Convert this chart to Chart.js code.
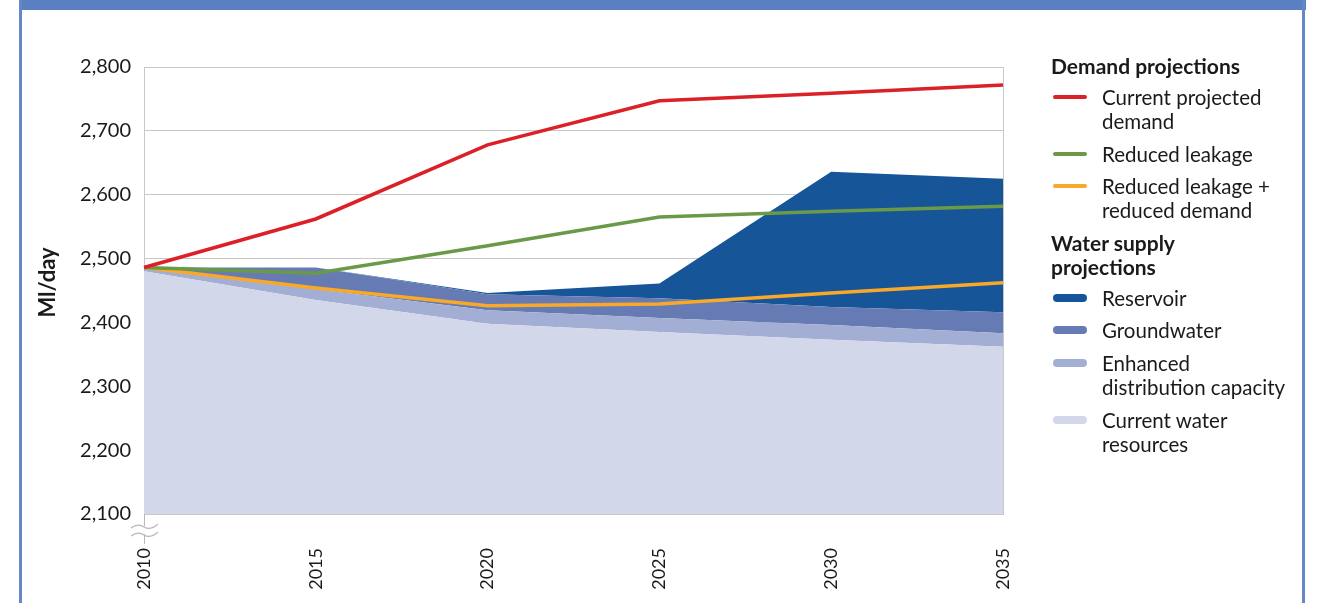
<!DOCTYPE html>
<html>
<head>
<meta charset="utf-8">
<script src="https://cdn.jsdelivr.net/npm/chart.js@4/dist/chart.umd.min.js"></script>
<style>
  html, body { margin: 0; padding: 0; background: #ffffff; }
  body { width: 1320px; height: 603px; position: relative; overflow: hidden; font-family: Lato, "Noto Sans", sans-serif; color: #1a1a1a; }
  #band { position: absolute; left: 19px; top: 0; width: 1287px; height: 10px; background: #5a7fc2; }
  #bl { position: absolute; left: 19px; top: 0; width: 3px; height: 603px; background: #6487c6; }
  #br { position: absolute; left: 1302px; top: 0; width: 3px; height: 603px; background: #6487c6; }
  #c { position: absolute; left: 0; top: 0; }
  .lg { position: absolute; font-size: 20.5px; line-height: 24px; white-space: nowrap; }
  .hd { font-weight: bold; font-size: 21px; }
  .sw { position: absolute; left: 1053px; width: 34px; }
</style>
</head>
<body>
<div id="band"></div><div id="bl"></div><div id="br"></div>
<canvas id="c" width="1320" height="603"></canvas>
<div id="legend"></div>
<script>
// ---- data ----
const years = ['2010', '2015', '2020', '2025', '2030', '2035'];
// supply components (stacked)
const currentResources = [2480, 2435, 2398, 2385, 2373, 2362];
const enhancedDistribution = [4, 17, 21, 22, 23, 21];
const groundwater = [2, 34, 25, 31, 28, 33];
const reservoir = [0, 0, 2, 23, 212, 209];
// demand projections
const currentDemand = [2486, 2562, 2678, 2747, 2759, 2772];
const reducedLeakage = [2486, 2477, 2520, 2565, 2574, 2582];
const reducedLeakageDemand = [2486, 2454, 2426, 2429, 2446, 2462];
// axis
const yMin = 2100, yMax = 2800, yStep = 100;
const yTitle = 'Ml/day';
// legend
const demandHeader = ['Demand projections'];
const supplyHeader = ['Water supply', 'projections'];
const legendCurrentDemand = ['Current projected', 'demand'];
const legendLeakage = ['Reduced leakage'];
const legendLeakageDemand = ['Reduced leakage +', 'reduced demand'];
const legendReservoir = ['Reservoir'];
const legendGroundwater = ['Groundwater'];
const legendEnhanced = ['Enhanced', 'distribution capacity'];
const legendCurrentRes = ['Current water', 'resources'];

const FONT = 'Lato, "Noto Sans", sans-serif';
const C = {
  red: '#dc2027', green: '#6a9a48', orange: '#f8a929',
  reservoir: '#165597', ground: '#667bb4', enhanced: '#a2aed3', current: '#d2d7e9',
  grid: '#c8c8c8'
};

function cumulate(base, ...parts) {
  const out = [];
  let acc = base.slice();
  out.push(acc.slice());
  parts.forEach(p => { acc = acc.map((v, i) => v + p[i]); out.push(acc.slice()); });
  return out;
}
const [topCur, topEnh, topGw, topRes] = cumulate(currentResources, enhancedDistribution, groundwater, reservoir);

function area(label, data, color, fill) {
  return { label, data, backgroundColor: color, borderColor: 'transparent', borderWidth: 0, fill, pointRadius: 0, tension: 0, order: 2 };
}
function line(label, data, color) {
  return { label, data, borderColor: color, backgroundColor: color, borderWidth: 3.5, fill: false, pointRadius: 0, tension: 0, order: 1 };
}

const decorPlugin = {
  id: 'decor',
  afterDraw(chart) {
    const ctx = chart.ctx, a = chart.chartArea;
    const x = a.left, y0 = a.bottom;
    ctx.save();
    // axis break
    ctx.strokeStyle = '#b8b8b8';
    ctx.lineWidth = 1;
    ctx.beginPath(); ctx.moveTo(x + 0.5, y0); ctx.lineTo(x + 0.5, y0 + 30); ctx.stroke();
    ctx.fillStyle = '#ffffff';
    ctx.beginPath();
    ctx.moveTo(x - 13, y0 + 14); ctx.lineTo(x + 14, y0 + 10); ctx.lineTo(x + 14, y0 + 18); ctx.lineTo(x - 13, y0 + 22); ctx.closePath(); ctx.fill();
    ctx.lineWidth = 1.2;
    [y0 + 13, y0 + 21].forEach(yy => {
      ctx.beginPath();
      ctx.moveTo(x - 13, yy + 1);
      ctx.quadraticCurveTo(x - 6, yy - 4, x, yy);
      ctx.quadraticCurveTo(x + 6, yy + 4, x + 14, yy - 3);
      ctx.stroke();
    });
    // y axis title
    ctx.translate(48, (a.top + a.bottom) / 2 - 8);
    ctx.rotate(-Math.PI / 2);
    ctx.fillStyle = '#1a1a1a';
    ctx.font = 'bold 22px ' + FONT;
    ctx.textAlign = 'center';
    ctx.textBaseline = 'middle';
    ctx.fillText(yTitle, 0, 0);
    ctx.restore();
  }
};

Chart.defaults.font.family = FONT;
Chart.defaults.color = '#1a1a1a';

new Chart(document.getElementById('c'), {
  type: 'line',
  data: {
    labels: years,
    datasets: [
      area('Current water resources', topCur, C.current, 'start'),
      area('Enhanced distribution capacity', topEnh, C.enhanced, '-1'),
      area('Groundwater', topGw, C.ground, '-1'),
      area('Reservoir', topRes, C.reservoir, '-1'),
      line('Current projected demand', currentDemand, C.red),
      line('Reduced leakage', reducedLeakage, C.green),
      line('Reduced leakage + reduced demand', reducedLeakageDemand, C.orange)
    ]
  },
  options: {
    responsive: false,
    animation: false,
    devicePixelRatio: 1,
    layout: { padding: { top: 67, right: 317, left: 0, bottom: 0 } },
    plugins: { legend: { display: false }, tooltip: { enabled: false } },
    scales: {
      x: {
        offset: false,
        grid: {
          drawTicks: false,
          color: (c) => c.index === years.length - 1 ? C.grid : 'transparent',
          lineWidth: 1
        },
        border: { display: true, color: C.grid },
        ticks: { font: { size: 18 }, maxRotation: 90, minRotation: 90, padding: 34, autoSkip: false },
        afterFit(s) { s.height = 89; }
      },
      y: {
        min: yMin, max: yMax,
        grid: { drawTicks: false, color: C.grid, lineWidth: 1 },
        border: { display: true, color: C.grid },
        ticks: { stepSize: yStep, font: { size: 20 }, padding: 13,
          callback: (v) => Number(v).toLocaleString('en-US') },
        afterFit(s) { s.width = 144; }
      }
    }
  },
  plugins: [decorPlugin]
});

// ---- legend (HTML) ----
const lg = document.getElementById('legend');
function addText(lines, top, left, bold) {
  const d = document.createElement('div');
  d.className = 'lg' + (bold ? ' hd' : '');
  d.style.left = left + 'px';
  d.style.top = (top - 12) + 'px';
  d.innerHTML = lines.join('<br>');
  lg.appendChild(d);
}
function addItem(lines, cy, color, thick) {
  const s = document.createElement('div');
  s.className = 'sw';
  s.style.top = (cy - thick / 2) + 'px';
  s.style.height = thick + 'px';
  s.style.background = color;
  s.style.borderRadius = (thick / 2) + 'px';
  lg.appendChild(s);
  addText(lines, cy, 1102, false);
}
addText(demandHeader, 66, 1051, true);
addItem(legendCurrentDemand, 97, C.red, 4);
addItem(legendLeakage, 154, C.green, 4);
addItem(legendLeakageDemand, 186, C.orange, 4);
addText(supplyHeader, 243, 1051, true);
addItem(legendReservoir, 298, C.reservoir, 8);
addItem(legendGroundwater, 330, C.ground, 8);
addItem(legendEnhanced, 363, C.enhanced, 8);
addItem(legendCurrentRes, 420, C.current, 8);
</script>
</body>
</html>
